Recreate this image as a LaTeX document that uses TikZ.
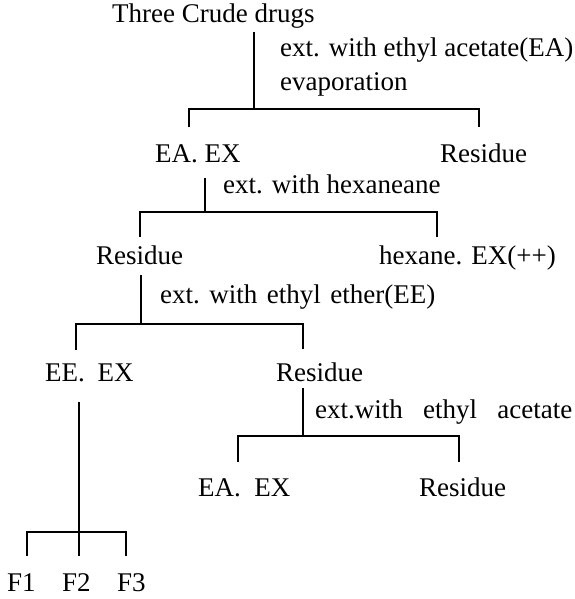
\documentclass[tikz,border=0pt]{standalone}
\usepackage{fontspec}
\setmainfont{Liberation Serif}
\begin{document}
\begin{tikzpicture}[x=1pt,y=-1pt,
  lbl/.style={inner sep=0pt, anchor=base west, font=\fontsize{27}{32}\selectfont},
  ln/.style={line width=1.1pt, line cap=butt, line join=miter}]
\useasboundingbox (0,0) rectangle (574,599);
% texts
\node[lbl] (top) at (112,23) {Three Crude drugs};
\node[lbl] (s0a) at (280,57) {ext. with ethyl acetate(EA)};
\node[lbl] (s0b) at (280,91) {evaporation};
\node[lbl] (eaex1) at (155,162) {EA. EX};
\node[lbl] (res1) at (440,162) {Residue};
\node[lbl] (s1) at (223,193) {ext. with hexaneane};
\node[lbl] (res2) at (96,264) {Residue};
\node[lbl] (hex) at (379,264) {hexane. EX(++)};
\node[lbl] (s2) at (160,303) {ext.\hspace{0.35em}with\hspace{0.35em}ethyl\hspace{0.35em}ether(EE)};
\node[lbl] (eeex) at (45,381) {EE.\hspace{0.47em}EX};
\node[lbl] (res3) at (276,381) {Residue};
\node[lbl] (s3) at (315,418) {ext.with\hspace{0.75em}ethyl\hspace{0.75em}acetate};
\node[lbl] (eaex4) at (198,496) {EA.\hspace{0.5em}EX};
\node[lbl] (res4) at (419,496) {Residue};
\node[lbl] (f1) at (7,591) {F1};
\node[lbl] (f2) at (62,591) {F2};
\node[lbl] (f3) at (117,591) {F3};
% junction coordinates
\coordinate (v0t) at (254,32);  \coordinate (v0b) at (254,109);
\coordinate (b0l) at (189,109); \coordinate (b0r) at (479,109);
\coordinate (t0l) at (189,127); \coordinate (t0r) at (479,127);
\coordinate (v1t) at (205,178); \coordinate (v1b) at (205,212);
\coordinate (b1l) at (140,212); \coordinate (b1r) at (437,212);
\coordinate (t1l) at (140,237); \coordinate (t1r) at (437,237);
\coordinate (v2t) at (141,275); \coordinate (v2b) at (141,324);
\coordinate (b2l) at (76,324);  \coordinate (b2r) at (303,324);
\coordinate (t2l) at (76,350);  \coordinate (t2r) at (303,349);
\coordinate (v3t) at (303,388); \coordinate (v3b) at (303,436);
\coordinate (b3l) at (238,436); \coordinate (b3r) at (459,436);
\coordinate (t3l) at (238,462); \coordinate (t3r) at (459,462);
\coordinate (v4t) at (79,402);  \coordinate (v4b) at (79,556);
\coordinate (b4l) at (27,532);  \coordinate (b4r) at (126,532);
\coordinate (t4l) at (27,556);  \coordinate (t4r) at (126,556);
% connectors
\draw[ln] (v0t) -- (v0b);
\draw[ln] (t0l) -- (b0l) -- (b0r) -- (t0r);
\draw[ln] (v1t) -- (v1b);
\draw[ln] (t1l) -- (b1l) -- (b1r) -- (t1r);
\draw[ln] (v2t) -- (v2b);
\draw[ln] (t2l) -- (b2l) -- (b2r) -- (t2r);
\draw[ln] (v3t) -- (v3b);
\draw[ln] (t3l) -- (b3l) -- (b3r) -- (t3r);
\draw[ln] (v4t) -- (v4b);
\draw[ln] (t4l) -- (b4l) -- (b4r) -- (t4r);
\end{tikzpicture}
\end{document}
